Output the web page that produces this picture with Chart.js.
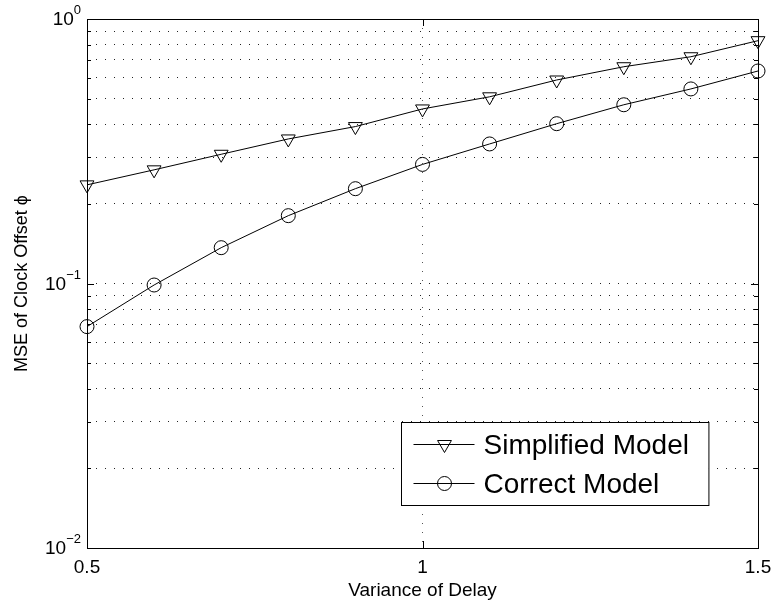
<!DOCTYPE html>
<html>
<head>
<meta charset="utf-8">
<script src="https://cdn.jsdelivr.net/npm/chart.js@4.4.1/dist/chart.umd.min.js"></script>
<style>
  html, body { margin: 0; background: #fff; }
  canvas { display: block; }
</style>
</head>
<body>
<canvas id="graficoMse" width="774" height="605"></canvas>
<script>
// Datos de la gráfica
const varianzaRetardo = [0.5, 0.6, 0.7, 0.8, 0.9, 1.0, 1.1, 1.2, 1.3, 1.4, 1.5];
const mseSimplificado = [0.236, 0.269, 0.308, 0.352, 0.392, 0.457, 0.508, 0.588, 0.660, 0.720, 0.828];
const mseCorrecto = [0.0687, 0.0987, 0.1366, 0.1805, 0.2283, 0.282, 0.337, 0.402, 0.474, 0.544, 0.636];
const ticksX = [0.5, 1, 1.5];
const decadasY = [0.01, 0.1, 1];

const FUENTE = '"Liberation Sans", Arial, Helvetica, sans-serif';

// Dibuja un marcador igual que en la serie (triángulo invertido o círculo)
function dibujarMarcador(ctx, estilo, x, y, r) {
    ctx.beginPath();
    if (estilo === 'triangle') {
        for (let k = 0; k < 3; k++) {
            const ang = Math.PI + k * 2 * Math.PI / 3;
            const px = x + Math.sin(ang) * r;
            const py = y - Math.cos(ang) * r;
            if (k === 0) ctx.moveTo(px, py); else ctx.lineTo(px, py);
        }
        ctx.closePath();
    } else {
        ctx.arc(x, y, r, 0, 2 * Math.PI);
    }
    ctx.stroke();
}

// 1. MARCO, MARCAS INTERIORES, ETIQUETAS 10^n Y LEYENDA
const estiloMatlab = {
    id: 'estiloMatlab',
    afterDraw(chart) {
        const { ctx, chartArea: a, scales: { x, y } } = chart;
        ctx.save();
        ctx.strokeStyle = '#000';
        ctx.lineWidth = 1;
        ctx.setLineDash([]);

        // marcas hacia dentro en los cuatro lados
        ctx.beginPath();
        y.ticks.forEach(t => {
            const py = Math.round(y.getPixelForValue(t.value)) + 0.5;
            const lg = Math.log10(t.value);
            const len = Math.abs(lg - Math.round(lg)) < 1e-6 ? 7 : 4;
            ctx.moveTo(a.left, py); ctx.lineTo(a.left + len, py);
            ctx.moveTo(a.right, py); ctx.lineTo(a.right - len, py);
        });
        x.ticks.forEach(t => {
            const px = Math.round(x.getPixelForValue(t.value)) + 0.5;
            ctx.moveTo(px, a.bottom); ctx.lineTo(px, a.bottom - 7);
            ctx.moveTo(px, a.top); ctx.lineTo(px, a.top + 7);
        });
        ctx.stroke();

        ctx.strokeRect(Math.round(a.left) + 0.5, Math.round(a.top) + 0.5,
            Math.round(a.right - a.left), Math.round(a.bottom - a.top));

        // etiquetas del eje logarítmico con exponente
        ctx.fillStyle = '#000';
        decadasY.forEach(v => {
            const py = y.getPixelForValue(v);
            const exp = Math.round(Math.log10(v));
            const txtExp = exp < 0 ? '\u2212' + (-exp) : String(exp);
            const xd = a.left - 6;
            ctx.font = `13px ${FUENTE}`;
            const we = ctx.measureText(txtExp).width;
            ctx.textAlign = 'left';
            ctx.textBaseline = 'alphabetic';
            ctx.fillText(txtExp, xd - we, py - 5);
            ctx.font = `19px ${FUENTE}`;
            ctx.textAlign = 'right';
            ctx.textBaseline = 'middle';
            ctx.fillText('10', xd - we, py + 1);
        });

        // leyenda en la esquina inferior derecha
        ctx.font = `28px ${FUENTE}`;
        const series = chart.data.datasets;
        const anchoTxt = Math.max(...series.map(d => ctx.measureText(d.label).width));
        const w = 12 + 61 + 9 + anchoTxt + 20;
        const h = 83;
        const bx = Math.round(a.right - 50 - w) + 0.5;
        const by = Math.round(a.bottom - 43 - h) + 0.5;
        ctx.fillStyle = '#fff';
        ctx.fillRect(bx, by, w, h);
        ctx.strokeRect(bx, by, w, h);
        series.forEach((d, i) => {
            const fy = Math.round(by + 21 + i * 39) + 0.5;
            ctx.beginPath();
            ctx.moveTo(bx + 12, fy); ctx.lineTo(bx + 73, fy);
            ctx.stroke();
            dibujarMarcador(ctx, d.pointStyle, bx + 43, fy, d.pointRadius);
            ctx.fillStyle = '#000';
            ctx.textAlign = 'left';
            ctx.textBaseline = 'middle';
            ctx.fillText(d.label, bx + 82, fy + 2);
        });
        ctx.restore();
    }
};

// 2. GRÁFICO
const ctx = document.getElementById('graficoMse').getContext('2d');
const puntos = vals => varianzaRetardo.map((v, i) => ({ x: v, y: vals[i] }));

new Chart(ctx, {
    type: 'line',
    data: {
        datasets: [{
            label: 'Simplified Model',
            data: puntos(mseSimplificado),
            borderColor: '#000',
            borderWidth: 1,
            pointStyle: 'triangle',
            rotation: 180,
            pointRadius: 8,
            pointBorderColor: '#000',
            pointBackgroundColor: 'rgba(0,0,0,0)',
            pointBorderWidth: 1,
            tension: 0,
            clip: false
        }, {
            label: 'Correct Model',
            data: puntos(mseCorrecto),
            borderColor: '#000',
            borderWidth: 1,
            pointStyle: 'circle',
            pointRadius: 7,
            pointBorderColor: '#000',
            pointBackgroundColor: 'rgba(0,0,0,0)',
            pointBorderWidth: 1,
            tension: 0,
            clip: false
        }]
    },
    options: {
        responsive: false,
        animation: false,
        layout: { padding: { top: 19, right: 16, left: 0, bottom: 0 } },
        plugins: {
            legend: { display: false },
            tooltip: { enabled: false }
        },
        scales: {
            x: {
                type: 'linear',
                min: 0.5,
                max: 1.5,
                afterBuildTicks: s => { s.ticks = ticksX.map(v => ({ value: v })); },
                afterFit: s => {
                    s.height = 57;
                    s.paddingLeft = 0;
                    s.paddingRight = 0;
                },
                ticks: {
                    color: '#000',
                    font: { family: FUENTE, size: 19 },
                    padding: 8,
                    maxRotation: 0,
                    callback: v => String(Number(v.toFixed(2)))
                },
                grid: { color: '#555', lineWidth: 1, drawTicks: false, borderDash: [1, 8] },
                border: { display: false, dash: [1, 8] },
                title: {
                    display: true,
                    text: 'Variance of Delay',
                    color: '#000',
                    font: { family: FUENTE, size: 19 },
                    padding: { top: 0, bottom: 3 }
                }
            },
            y: {
                type: 'logarithmic',
                min: 0.01,
                max: 1,
                afterBuildTicks: s => {
                    const t = [];
                    for (let i = 0; i < decadasY.length - 1; i++) {
                        for (let m = 1; m < 10; m++) t.push({ value: decadasY[i] * m });
                    }
                    t.push({ value: decadasY[decadasY.length - 1] });
                    s.ticks = t;
                },
                afterFit: s => {
                    s.width = 87;
                    s.paddingTop = 0;
                    s.paddingBottom = 0;
                },
                ticks: { display: false },
                grid: { color: '#222', lineWidth: 1, drawTicks: false, borderDash: [1, 8] },
                border: { display: false, dash: [1, 8] },
                title: {
                    display: true,
                    text: 'MSE of Clock Offset \u03D5',
                    color: '#000',
                    font: { family: FUENTE, size: 18 },
                    padding: { top: 11, bottom: 0 }
                }
            }
        }
    },
    plugins: [estiloMatlab]
});
</script>
</body>
</html>
